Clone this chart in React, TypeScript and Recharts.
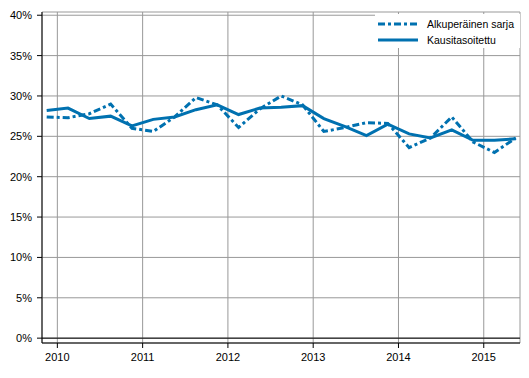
import { CartesianGrid, Line, LineChart, ReferenceLine, XAxis, YAxis } from "recharts";

// quarterly observations, first one plotted just before the 2010 gridline
const quarters = [
  "2009Q4", "2010Q1", "2010Q2", "2010Q3", "2010Q4", "2011Q1", "2011Q2", "2011Q3",
  "2011Q4", "2012Q1", "2012Q2", "2012Q3", "2012Q4", "2013Q1", "2013Q2", "2013Q3",
  "2013Q4", "2014Q1", "2014Q2", "2014Q3", "2014Q4", "2015Q1", "2015Q2",
];
const original = [
  27.4, 27.3, 27.8, 29.0, 26.0, 25.6, 27.4, 29.8, 28.9, 26.1, 28.4, 30.0,
  28.9, 25.6, 26.1, 26.7, 26.6, 23.6, 24.8, 27.4, 24.3, 23.0, 24.8,
];
const adjusted = [
  28.2, 28.5, 27.2, 27.5, 26.3, 27.1, 27.4, 28.3, 28.9, 27.7, 28.5, 28.6,
  28.8, 27.2, 26.2, 25.1, 26.5, 25.3, 24.8, 25.8, 24.5, 24.5, 24.7,
];
const yearTicks = [2010, 2011, 2012, 2013, 2014, 2015];
const percentTicks = [0, 5, 10, 15, 20, 25, 30, 35, 40];

const BLUE = "#0071b0";
const GRID = "#999999";
const DASH = "7 3 3 3";
const FONT = "'Liberation Sans', Arial, sans-serif";

// place each quarter in the middle of its slot on a continuous year axis
function quarterPos(q: string) {
  return Number(q.slice(0, 4)) + (Number(q.slice(5)) - 1) / 4 + 0.125;
}

const data = quarters.map((q, i) => ({
  t: quarterPos(q),
  original: original[i],
  adjusted: adjusted[i],
}));

function LegendBox() {
  const items = [
    { label: "Alkuperäinen sarja", dash: DASH },
    { label: "Kausitasoitettu", dash: undefined },
  ];
  return (
    <div
      style={{
        position: "absolute",
        left: 375,
        top: 14,
        width: 145,
        height: 34,
        paddingTop: 2,
        boxSizing: "border-box",
        background: "#fff",
      }}
    >
      {items.map((it) => (
        <div key={it.label} style={{ display: "flex", alignItems: "center", height: 16 }}>
          <svg width={49} height={8} style={{ marginLeft: 3, flexShrink: 0 }}>
            <line x1={0} x2={40} y1={4} y2={4} stroke={BLUE} strokeWidth={3} strokeDasharray={it.dash} />
          </svg>
          <span style={{ fontFamily: FONT, fontSize: 10.5, color: "#000", whiteSpace: "nowrap" }}>
            {it.label}
          </span>
        </div>
      ))}
    </div>
  );
}

export default function App() {
  const tickStyle = { fill: "#000", fontSize: 11, fontFamily: FONT };
  return (
    <div style={{ position: "relative", width: 529, height: 378, background: "#fff" }}>
      <style>{`body{margin:0}`}</style>
      <LineChart width={529} height={378} data={data} margin={{ top: 12, right: 9, left: 0, bottom: 0 }}>
        <CartesianGrid stroke={GRID} strokeWidth={1} />
        <XAxis
          dataKey="t"
          type="number"
          domain={[2009.82, 2015.425]}
          ticks={yearTicks}
          allowDataOverflow
          height={35}
          tick={tickStyle}
          tickLine={{ stroke: "#000" }}
          axisLine={{ stroke: "#000" }}
          tickSize={5}
          tickMargin={5}
        />
        <YAxis
          type="number"
          domain={[-0.6, 40.4]}
          ticks={percentTicks}
          allowDataOverflow
          width={42}
          tick={tickStyle}
          tickLine={{ stroke: "#000" }}
          axisLine={{ stroke: "#000" }}
          tickSize={5}
          tickMargin={5}
          tickFormatter={(v) => `${v}%`}
        />
        <ReferenceLine y={0} stroke="#000" strokeWidth={1} />
        <Line
          dataKey="original"
          stroke={BLUE}
          strokeWidth={3}
          strokeDasharray={DASH}
          dot={false}
          isAnimationActive={false}
        />
        <Line dataKey="adjusted" stroke={BLUE} strokeWidth={3} dot={false} isAnimationActive={false} />
      </LineChart>
      <LegendBox />
    </div>
  );
}
